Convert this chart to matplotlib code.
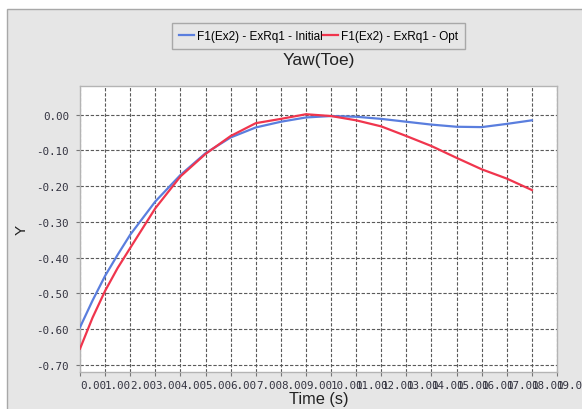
import numpy as np
import matplotlib
matplotlib.use('Agg')
import matplotlib.pyplot as plt
from matplotlib.patches import Rectangle

# values
time_s = [0, 0.5, 1, 1.5, 2, 3, 4, 5, 6, 7, 8, 9, 10, 11, 12, 13, 14, 15, 16, 17, 18]
yaw_initial = [-0.595, -0.520, -0.451, -0.392, -0.336, -0.243, -0.169, -0.108, -0.064, -0.036,
               -0.020, -0.008, -0.004, -0.006, -0.012, -0.020, -0.028, -0.034, -0.035,
               -0.026, -0.016]
yaw_opt = [-0.655, -0.568, -0.493, -0.429, -0.373, -0.262, -0.173, -0.110, -0.060, -0.024,
           -0.012, 0.001, -0.004, -0.016, -0.033, -0.060, -0.088, -0.121, -0.153,
           -0.179, -0.211]
x_ticks = list(range(0, 20))
y_ticks = [0.0, -0.1, -0.2, -0.3, -0.4, -0.5, -0.6, -0.7]

series_names = ['F1(Ex2) - ExRq1 - Initial', 'F1(Ex2) - ExRq1 - Opt']
title = 'Yaw(Toe)'

W, H = 582, 410
panel_color = '#e6e6e6'
blue = '#5a7ede'
red = '#f0354d'

fig = plt.figure(figsize=(W / 100, H / 100), dpi=100)
fig.patch.set_facecolor('white')

# grey panel behind everything
fig.patches.append(Rectangle((7 / W, -0.05), 1.1, 1 - 10 / H + 0.05,
                             transform=fig.transFigure, facecolor=panel_color,
                             edgecolor='#a8a8a8', linewidth=1.0, zorder=-10))

ax = fig.add_axes([80 / W, (H - 373) / H, 477 / W, 286 / H])
ax.set_facecolor('white')

ax.plot(time_s, yaw_initial, color=blue, lw=1.6, label=series_names[0], zorder=3)
ax.plot(time_s, yaw_opt, color=red, lw=1.6, label=series_names[1], zorder=3)

ax.set_xlim(0, 19)
ax.set_ylim(-0.72, 0.08)

ax.set_xticks(x_ticks)
ax.set_xticklabels([f'{v:.2f}' for v in x_ticks], ha='left',
                   family='DejaVu Sans Mono', fontsize=7.8, color='#333340')
ax.set_yticks(y_ticks)
ax.set_yticklabels([f'{v:.2f}' for v in y_ticks],
                   family='DejaVu Sans Mono', fontsize=7.8, color='#333340')
ax.tick_params(axis='both', direction='out', length=3, width=0.8, color='#777777')
ax.tick_params(axis='x', pad=3)
ax.tick_params(axis='y', pad=5)

ax.grid(True, linestyle=(0, (3, 1.6)), linewidth=0.8, color='#5a5a5a')
ax.set_axisbelow(True)
for sp in ax.spines.values():
    sp.set_color('#b4b4b4')
    sp.set_linewidth(1.0)

ax.set_xlabel('Time (s)', family='Liberation Sans', fontsize=11.8, color='#222222', va='top')
ax.xaxis.set_label_coords(0.5, -(392 - 373) / 286)
ax.set_ylabel('Y', family='Liberation Sans', fontsize=11, color='#222222', va='center')
ax.yaxis.set_label_coords((22 - 80) / 477, 0.5)

fig.text(319 / W, 1 - 60 / H, title, ha='center', va='center',
         family='Liberation Sans', fontsize=12.5, color='#222222')

leg = fig.legend(loc='center', bbox_to_anchor=(318.5 / W, 1 - 37 / H), ncol=2,
                 prop={'family': 'Liberation Sans', 'size': 8.5},
                 handlelength=1.2, handletextpad=0.25, columnspacing=0.1,
                 borderpad=0.6, fancybox=False, framealpha=1)
leg.get_frame().set_facecolor(panel_color)
leg.get_frame().set_edgecolor('#a8a8a8')
leg.get_frame().set_linewidth(1.0)

fig.savefig('out.png', dpi=100)
